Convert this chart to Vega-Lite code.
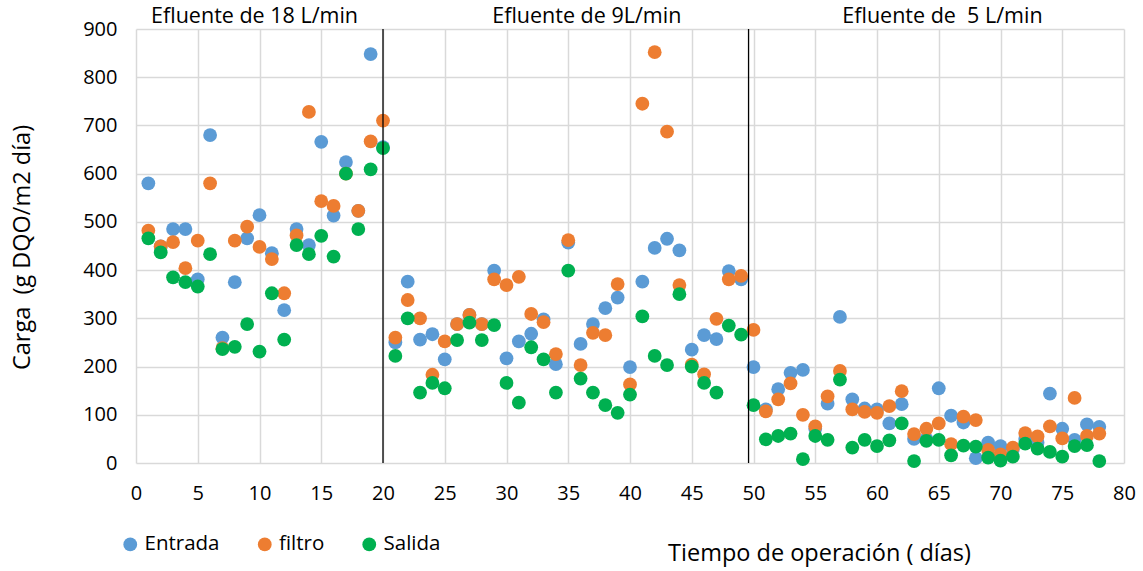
{
  "$schema": "https://vega.github.io/schema/vega-lite/v6.json",
  "autosize": {"type": "none"},
  "width": 988,
  "height": 434,
  "padding": {"left": 136, "top": 29, "right": 19, "bottom": 108},
  "background": "white",
  "config": {
    "view": {"stroke": null},
    "font": "Open Sans",
    "axis": {
      "grid": true,
      "gridColor": "#d9d9d9",
      "gridWidth": 1.5,
      "domain": false,
      "ticks": false,
      "labelFont": "Open Sans",
      "labelFontSize": 20,
      "labelColor": "#000000",
      "titleFont": "Open Sans",
      "titleFontSize": 23.5,
      "titleFontWeight": "normal",
      "titleColor": "#000000"
    },
    "legend": {
      "labelFont": "Open Sans",
      "labelFontSize": 20.5,
      "labelColor": "#000000"
    }
  },
  "data": {
    "values": [
      {"dia": 1, "Entrada": 580, "filtro": 482, "Salida": 466},
      {"dia": 2, "Entrada": 449, "filtro": 449, "Salida": 437},
      {"dia": 3, "Entrada": 485, "filtro": 458, "Salida": 385},
      {"dia": 4, "Entrada": 485, "filtro": 404, "Salida": 375},
      {"dia": 5, "Entrada": 381, "filtro": 461, "Salida": 366},
      {"dia": 6, "Entrada": 680, "filtro": 580, "Salida": 433},
      {"dia": 7, "Entrada": 260, "filtro": 238, "Salida": 236},
      {"dia": 8, "Entrada": 375, "filtro": 461, "Salida": 241},
      {"dia": 9, "Entrada": 466, "filtro": 490, "Salida": 288},
      {"dia": 10, "Entrada": 514, "filtro": 448, "Salida": 231},
      {"dia": 11, "Entrada": 435, "filtro": 423, "Salida": 352},
      {"dia": 12, "Entrada": 317, "filtro": 352, "Salida": 256},
      {"dia": 13, "Entrada": 485, "filtro": 472, "Salida": 452},
      {"dia": 14, "Entrada": 452, "filtro": 728, "Salida": 433},
      {"dia": 15, "Entrada": 666, "filtro": 543, "Salida": 471},
      {"dia": 16, "Entrada": 513, "filtro": 533, "Salida": 428},
      {"dia": 17, "Entrada": 624, "filtro": 600, "Salida": 600},
      {"dia": 18, "Entrada": 523, "filtro": 523, "Salida": 485},
      {"dia": 19, "Entrada": 848, "filtro": 667, "Salida": 609},
      {"dia": 20, "Entrada": 655, "filtro": 710, "Salida": 653},
      {"dia": 21, "Entrada": 250, "filtro": 260, "Salida": 222},
      {"dia": 22, "Entrada": 376, "filtro": 338, "Salida": 300},
      {"dia": 23, "Entrada": 256, "filtro": 300, "Salida": 146},
      {"dia": 24, "Entrada": 267, "filtro": 183, "Salida": 166},
      {"dia": 25, "Entrada": 215, "filtro": 252, "Salida": 155},
      {"dia": 26, "Entrada": 288, "filtro": 288, "Salida": 255},
      {"dia": 27, "Entrada": 307, "filtro": 307, "Salida": 291},
      {"dia": 28, "Entrada": 288, "filtro": 288, "Salida": 255},
      {"dia": 29, "Entrada": 399, "filtro": 381, "Salida": 286},
      {"dia": 30, "Entrada": 217, "filtro": 369, "Salida": 166},
      {"dia": 31, "Entrada": 252, "filtro": 386, "Salida": 125},
      {"dia": 32, "Entrada": 268, "filtro": 309, "Salida": 240},
      {"dia": 33, "Entrada": 298, "filtro": 292, "Salida": 215},
      {"dia": 34, "Entrada": 205, "filtro": 226, "Salida": 146},
      {"dia": 35, "Entrada": 457, "filtro": 462, "Salida": 399},
      {"dia": 36, "Entrada": 247, "filtro": 203, "Salida": 175},
      {"dia": 37, "Entrada": 288, "filtro": 270, "Salida": 146},
      {"dia": 38, "Entrada": 321, "filtro": 265, "Salida": 120},
      {"dia": 39, "Entrada": 343, "filtro": 371, "Salida": 104},
      {"dia": 40, "Entrada": 199, "filtro": 163, "Salida": 142},
      {"dia": 41, "Entrada": 376, "filtro": 745, "Salida": 304},
      {"dia": 42, "Entrada": 446, "filtro": 852, "Salida": 222},
      {"dia": 43, "Entrada": 465, "filtro": 687, "Salida": 203},
      {"dia": 44, "Entrada": 441, "filtro": 369, "Salida": 350},
      {"dia": 45, "Entrada": 235, "filtro": 204, "Salida": 200},
      {"dia": 46, "Entrada": 265, "filtro": 184, "Salida": 166},
      {"dia": 47, "Entrada": 257, "filtro": 299, "Salida": 146},
      {"dia": 48, "Entrada": 398, "filtro": 381, "Salida": 285},
      {"dia": 49, "Entrada": 381, "filtro": 388, "Salida": 266},
      {"dia": 50, "Entrada": 199, "filtro": 276, "Salida": 120},
      {"dia": 51, "Entrada": 111, "filtro": 107, "Salida": 49},
      {"dia": 52, "Entrada": 153, "filtro": 132, "Salida": 56},
      {"dia": 53, "Entrada": 187, "filtro": 165, "Salida": 61},
      {"dia": 54, "Entrada": 193, "filtro": 100, "Salida": 8},
      {"dia": 55, "Entrada": 71, "filtro": 76, "Salida": 56},
      {"dia": 56, "Entrada": 123, "filtro": 138, "Salida": 48},
      {"dia": 57, "Entrada": 303, "filtro": 191, "Salida": 173},
      {"dia": 58, "Entrada": 132, "filtro": 111, "Salida": 32},
      {"dia": 59, "Entrada": 113, "filtro": 106, "Salida": 48},
      {"dia": 60, "Entrada": 111, "filtro": 104, "Salida": 35},
      {"dia": 61, "Entrada": 82, "filtro": 118, "Salida": 47},
      {"dia": 62, "Entrada": 122, "filtro": 149, "Salida": 82},
      {"dia": 63, "Entrada": 50, "filtro": 60, "Salida": 4},
      {"dia": 64, "Entrada": 50, "filtro": 71, "Salida": 46},
      {"dia": 65, "Entrada": 155, "filtro": 82, "Salida": 48},
      {"dia": 66, "Entrada": 98, "filtro": 39, "Salida": 16},
      {"dia": 67, "Entrada": 84, "filtro": 96, "Salida": 36},
      {"dia": 68, "Entrada": 10, "filtro": 89, "Salida": 34},
      {"dia": 69, "Entrada": 42, "filtro": 27, "Salida": 11},
      {"dia": 70, "Entrada": 35, "filtro": 18, "Salida": 5},
      {"dia": 71, "Entrada": 28, "filtro": 32, "Salida": 13},
      {"dia": 72, "Entrada": 50, "filtro": 62, "Salida": 40},
      {"dia": 73, "Entrada": 42, "filtro": 55, "Salida": 30},
      {"dia": 74, "Entrada": 144, "filtro": 76, "Salida": 23},
      {"dia": 75, "Entrada": 71, "filtro": 51, "Salida": 13},
      {"dia": 76, "Entrada": 48, "filtro": 135, "Salida": 35},
      {"dia": 77, "Entrada": 80, "filtro": 56, "Salida": 37},
      {"dia": 78, "Entrada": 75, "filtro": 61, "Salida": 4}
    ]
  },
  "layer": [
    {
      "mark": {"type": "point", "filled": true, "opacity": 1, "size": 190, "shape": "circle"},
      "encoding": {
        "x": {"field": "dia", "type": "quantitative", "scale": {"domain": [0, 80], "nice": false, "zero": true},
              "axis": {"values": [0,5,10,15,20,25,30,35,40,45,50,55,60,65,70,75,80], "labelPadding": 20, "titleX": 683, "titleY": 90, "titleAnchor": null, "titleAlign": "center", "titleBaseline": "middle", "labelFlush": false},
              "title": "Tiempo de operación ( días)"},
        "y": {"field": "Entrada", "type": "quantitative", "scale": {"domain": [0, 900], "nice": false},
              "axis": {"values": [0,100,200,300,400,500,600,700,800,900], "labelPadding": 19, "titleX": -114, "titleY": 218, "titleAngle": -90, "titleAlign": "center", "titleBaseline": "middle"},
              "title": "Carga\u00a0 (g DQO/m2 día)"},
        "color": {"datum": "Entrada", "type": "nominal",
                  "scale": {"domain": ["Entrada", "filtro", "Salida"], "range": ["#5B9BD5", "#ED7D31", "#00B050"]},
                  "legend": {"title": null, "orient": "none", "direction": "horizontal", "legendX": -16, "legendY": 505, "symbolSize": 190, "symbolType": "circle", "columnPadding": 34.5, "labelOffset": 4, "symbolStrokeWidth": 0}}
      }
    },
    {
      "mark": {"type": "point", "filled": true, "opacity": 1, "size": 190, "shape": "circle"},
      "encoding": {
        "x": {"field": "dia", "type": "quantitative", "title": "Tiempo de operación ( días)"},
        "y": {"field": "filtro", "type": "quantitative", "title": "Carga\u00a0 (g DQO/m2 día)"},
        "color": {"datum": "filtro", "type": "nominal"}
      }
    },
    {
      "mark": {"type": "point", "filled": true, "opacity": 1, "size": 190, "shape": "circle"},
      "encoding": {
        "x": {"field": "dia", "type": "quantitative", "title": "Tiempo de operación ( días)"},
        "y": {"field": "Salida", "type": "quantitative", "title": "Carga\u00a0 (g DQO/m2 día)"},
        "color": {"datum": "Salida", "type": "nominal"}
      }
    },
    {
      "data": {"values": [{"limite": 20}, {"limite": 49.6}]},
      "mark": {"type": "rule", "color": "#000000", "strokeWidth": 1.3},
      "encoding": {
        "x": {"field": "limite", "type": "quantitative", "title": "Tiempo de operación ( días)"},
        "y": {"datum": 0, "type": "quantitative"},
        "y2": {"datum": 900}
      }
    },
    {
      "data": {"values": [
        {"pos": 9.6, "nivel": 925, "etiqueta": "Efluente de 18 L/min"},
        {"pos": 36.5, "nivel": 925, "etiqueta": "Efluente de 9L/min"},
        {"pos": 65.3, "nivel": 925, "etiqueta": "Efluente de\u00a0 5 L/min"}
      ]},
      "mark": {"type": "text", "font": "Open Sans", "fontSize": 21.5, "color": "#000000", "align": "center", "baseline": "middle", "clip": false},
      "encoding": {
        "x": {"field": "pos", "type": "quantitative", "title": "Tiempo de operación ( días)"},
        "y": {"field": "nivel", "type": "quantitative", "title": "Carga\u00a0 (g DQO/m2 día)"},
        "text": {"field": "etiqueta"}
      }
    }
  ]
}
